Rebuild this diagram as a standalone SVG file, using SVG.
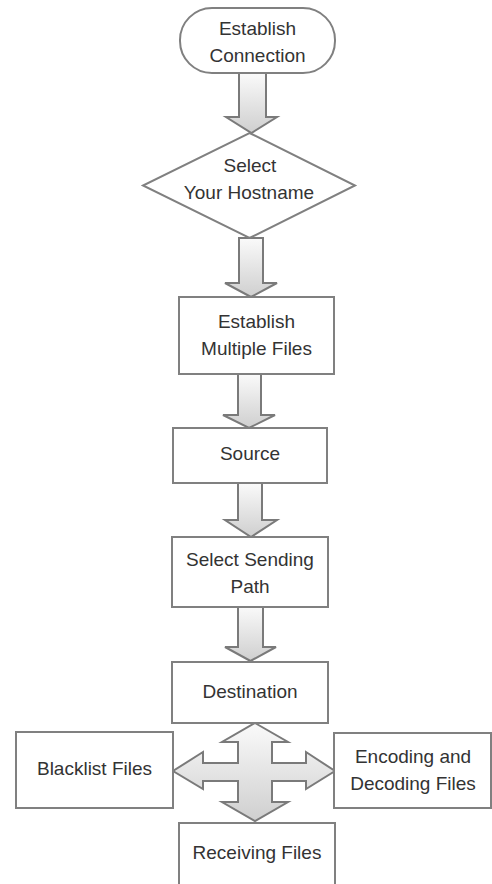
<svg xmlns="http://www.w3.org/2000/svg" width="492" height="884" viewBox="0 0 492 884">
<defs>
<linearGradient id="g" x1="0" y1="0" x2="0" y2="1">
<stop offset="0" stop-color="#fafafa"/>
<stop offset="1" stop-color="#cfcfcf"/>
</linearGradient>
<style>
.n{fill:#ffffff;stroke:#808080;stroke-width:2}
.a{fill:url(#g);stroke:#7a7a7a;stroke-width:2;stroke-linejoin:miter}
text{font-family:"Liberation Sans",Arial,sans-serif;font-size:19px;fill:#333333;text-anchor:middle}
</style>
</defs>
<rect width="492" height="884" fill="#ffffff"/>
<g id="connectors">
<polygon class="a" points="239,73 266,73 266,117 277,117 251.5,133 226,117 239,117"/>
<polygon class="a" points="239,238 263,238 263,283 277,283 251,297 225,283 239,283"/>
<polygon class="a" points="238,374 261,374 261,415 275,415 249,428 223,415 238,415"/>
<polygon class="a" points="238,483 262,483 262,520 277,520 251,537 225,520 238,520"/>
<polygon class="a" points="238,606 263,606 263,647 276,647 250.5,661 225,647 238,647"/>
<polygon class="a" points="255,723 288,742 272,742 272,763 306,763 306,752 335,771 306,789 306,781 272,781 272,802 288,802 255,821 222,802 238,802 238,781 203,781 203,789 173,771 203,752 203,763 238,763 238,742 222,742"/>
</g>
<g id="establish-connection">
<rect class="n" x="180" y="8" width="155" height="65" rx="32" ry="32"/>
<text x="257.5" y="35">Establish</text>
<text x="257.5" y="62">Connection</text>
</g>
<g id="select-hostname">
<polygon class="n" points="249.5,133 355,185.5 249.5,238 143,185.5"/>
<text x="250" y="172">Select</text>
<text x="249" y="199">Your Hostname</text>
</g>
<g id="establish-multiple-files">
<rect class="n" x="179" y="297" width="155" height="77"/>
<text x="256.5" y="328">Establish</text>
<text x="256.5" y="355">Multiple Files</text>
</g>
<g id="source">
<rect class="n" x="173" y="428" width="154" height="55"/>
<text x="250" y="459.5">Source</text>
</g>
<g id="select-sending-path">
<rect class="n" x="172" y="537" width="156" height="70"/>
<text x="250" y="566">Select Sending</text>
<text x="250" y="593">Path</text>
</g>
<g id="destination">
<rect class="n" x="172" y="662" width="156" height="61"/>
<text x="250" y="697.5">Destination</text>
</g>
<g id="blacklist-files">
<rect class="n" x="16" y="732" width="157" height="76"/>
<text x="94.5" y="775">Blacklist Files</text>
</g>
<g id="encoding-decoding-files">
<rect class="n" x="334" y="733" width="157" height="75"/>
<text x="413" y="762.5">Encoding and</text>
<text x="413" y="789.5">Decoding Files</text>
</g>
<g id="receiving-files">
<rect class="n" x="179" y="823" width="156" height="70"/>
<text x="257" y="858.5">Receiving Files</text>
</g>
</svg>
